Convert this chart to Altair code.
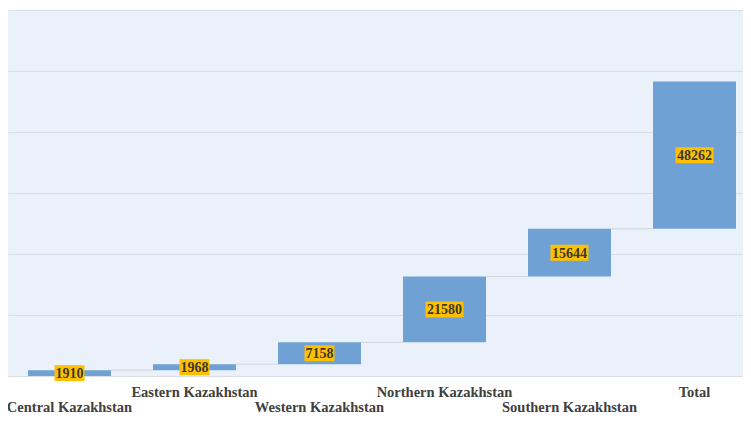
import altair as alt
import pandas as pd

categories = ["Central Kazakhstan", "Eastern Kazakhstan", "Western Kazakhstan",
              "Northern Kazakhstan", "Southern Kazakhstan", "Total"]
values = [1910, 1968, 7158, 21580, 15644, 48262]
is_total = [False, False, False, False, False, True]

# waterfall bookkeeping (the total is drawn floating on top of the running sum, as in the source)
rows = []
running = 0
for i, (c, v, t) in enumerate(zip(categories, values, is_total)):
    start = v if t else running
    end = start + v
    if not t:
        running += v
    rows.append(dict(idx=i, cat=c, val=v, start=start, end=end, mid=(start + end) / 2,
                     x0=i - 0.332, x1=i + 0.332,
                     cx0=i + 0.332, cx1=i + 1 - 0.332,
                     row="upper" if i % 2 else "lower",
                     digits=len(str(v))))
df = pd.DataFrame(rows)

W, H = 735, 366
xs = alt.Scale(domain=[-0.492, 5.388], nice=False, zero=False)
ys = alt.Scale(domain=[0, 120000], nice=False, zero=True)
yaxis = alt.Axis(values=[0, 20000, 40000, 60000, 80000, 100000, 120000],
                 labels=False, ticks=False, domain=False, title=None,
                 grid=True, gridColor="#D8DEE6", gridWidth=1)


def X(f):
    return alt.X(f, scale=xs, axis=None)


def Y(f):
    return alt.Y(f, scale=ys, axis=yaxis)


base = alt.Chart(df)

bars = base.mark_rect(color="#6FA1D5").encode(
    x=X("x0:Q"), x2="x1:Q", y=Y("start:Q"), y2="end:Q")

connectors = base.transform_filter("datum.idx < 5").mark_rule(
    color="#D0D4DA", strokeWidth=1).encode(
    x=X("cx0:Q"), x2="cx1:Q", y=Y("end:Q"))


def box_layer(ndig, w):
    h = 16 / w
    return base.transform_filter(f"datum.digits == {ndig}").mark_point(
        filled=True, color="#FFC000", opacity=1,
        shape=f"M-1,-{h:.3f}H1V{h:.3f}H-1Z", size=w * w).encode(
        x=X("idx:Q"), y=Y("mid:Q"))


boxes4 = box_layer(4, 30)
boxes5 = box_layer(5, 38)

vlabels = base.mark_text(font="Liberation Serif", fontSize=14, fontWeight="bold",
                         color="#3A3A30", baseline="middle", dy=1).encode(
    x=X("idx:Q"), y=Y("mid:Q"), text="val:Q")

lower = base.transform_filter("datum.row == 'lower'").mark_text(
    font="Liberation Serif", fontSize=14.5, fontWeight="bold", color="#404040",
    baseline="alphabetic").encode(
    x=X("idx:Q"), y=alt.value(402), text="cat:N")

upper = base.transform_filter("datum.row == 'upper'").mark_text(
    font="Liberation Serif", fontSize=14.5, fontWeight="bold", color="#404040",
    baseline="alphabetic").encode(
    x=X("idx:Q"), y=alt.value(387), text="cat:N")

chart = alt.layer(connectors, bars, boxes4, boxes5, vlabels, lower, upper).properties(
    width=W, height=H,
    autosize=alt.AutoSizeParams(type="none"),
    padding={"left": 0, "top": 2, "right": 0, "bottom": 40},
).configure_view(fill="#EBF1FA", stroke=None)

chart.save("out.html", embed_options={"renderer": "svg", "actions": False})
